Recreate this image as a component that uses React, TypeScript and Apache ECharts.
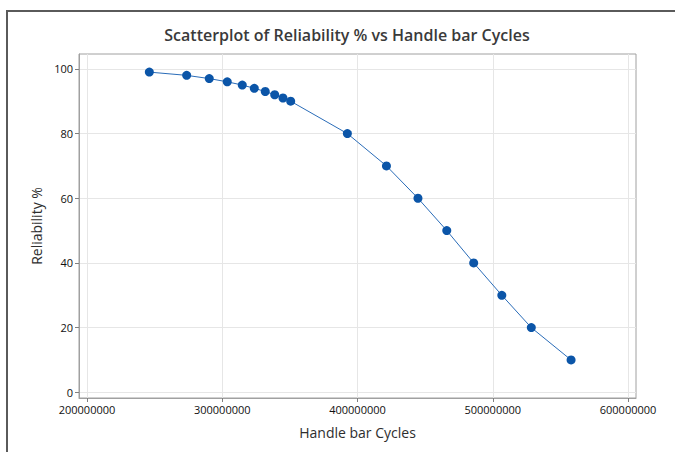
import React, { useEffect, useRef } from "react";
import * as echarts from "echarts";

const cycles = [
  246.1e6, 273.7e6, 290.4e6, 303.7e6, 314.8e6, 323.7e6, 331.8e6, 338.8e6, 344.9e6,
  350.6e6, 392.5e6, 421.4e6, 444.7e6, 466.0e6, 485.9e6, 506.7e6, 528.5e6, 557.9e6,
];
const reliability = [99, 98, 97, 96, 95, 94, 93, 92, 91, 90, 80, 70, 60, 50, 40, 30, 20, 10];
const xTicks = [200000000, 300000000, 400000000, 500000000, 600000000];
const yTicks = [0, 20, 40, 60, 80, 100];

const FONT = "'Open Sans', 'Noto Sans', sans-serif";

export default function App() {
  const ref = useRef<HTMLDivElement>(null);
  useEffect(() => {
    if (!ref.current) return;
    const chart = echarts.init(ref.current, null, { renderer: "svg" });
    const data = cycles.map((c, i) => [c, reliability[i]]);
    chart.setOption({
      animation: false,
      backgroundColor: "#ffffff",
      title: {
        text: "Scatterplot of Reliability % vs Handle bar Cycles",
        left: 342,
        textAlign: "center",
        top: 22,
        textStyle: { fontFamily: FONT, fontSize: 16, fontWeight: 600, color: "#3a3a3a" },
      },
      grid: {
        left: 79,
        top: 54,
        width: 557,
        height: 344,
        show: true,
        borderColor: "#a0a0a0",
        borderWidth: 1,
        backgroundColor: "transparent",
      },
      xAxis: {
        type: "value",
        min: 194.1e6,
        max: 605.9e6,
        name: "Handle bar Cycles",
        nameLocation: "middle",
        nameGap: 27,
        nameTextStyle: { fontFamily: FONT, fontSize: 14, fontWeight: 500, color: "#2e2e2e" },
        axisLine: { show: true, onZero: false, lineStyle: { color: "#a0a0a0", width: 1 } },
        axisTick: { show: true, length: 4, customValues: xTicks, lineStyle: { color: "#808080" } },
        axisLabel: {
          customValues: xTicks,
          margin: 6,
          fontFamily: FONT,
          fontSize: 11,
          color: "#111111",
          formatter: (v: number) => String(Math.round(v)),
        },
        splitLine: { show: true, lineStyle: { color: "#e6e6e6", width: 1 } },
      },
      yAxis: {
        type: "value",
        min: -1.76,
        max: 104.6,
        name: "Reliability %",
        nameLocation: "middle",
        nameGap: 24,
        nameRotate: 90,
        nameTextStyle: { fontFamily: FONT, fontSize: 14, fontWeight: 500, color: "#2e2e2e" },
        axisLine: { show: true, onZero: false, lineStyle: { color: "#a0a0a0", width: 1 } },
        axisTick: { show: true, length: 4, customValues: yTicks, lineStyle: { color: "#808080" } },
        axisLabel: {
          customValues: yTicks,
          margin: 6,
          fontFamily: FONT,
          fontSize: 11,
          color: "#111111",
        },
        splitLine: { show: true, lineStyle: { color: "#e6e6e6", width: 1 } },
      },
      graphic: [
        { type: "line", shape: { x1: 6, y1: 11, x2: 675, y2: 11 }, style: { stroke: "#5a5a5a", lineWidth: 2 } },
        { type: "line", shape: { x1: 7, y1: 10, x2: 7, y2: 452 }, style: { stroke: "#5a5a5a", lineWidth: 2 } },
      ],
      series: [
        {
          type: "line",
          data,
          symbol: "circle",
          symbolSize: 9,
          itemStyle: { color: "#0b55a8" },
          lineStyle: { color: "#2a6cb8", width: 1 },
        },
      ],
    });
    return () => chart.dispose();
  }, []);
  return (
    <div
      ref={ref}
      style={{ position: "absolute", left: 0, top: 0, width: 675, height: 452 }}
    />
  );
}
